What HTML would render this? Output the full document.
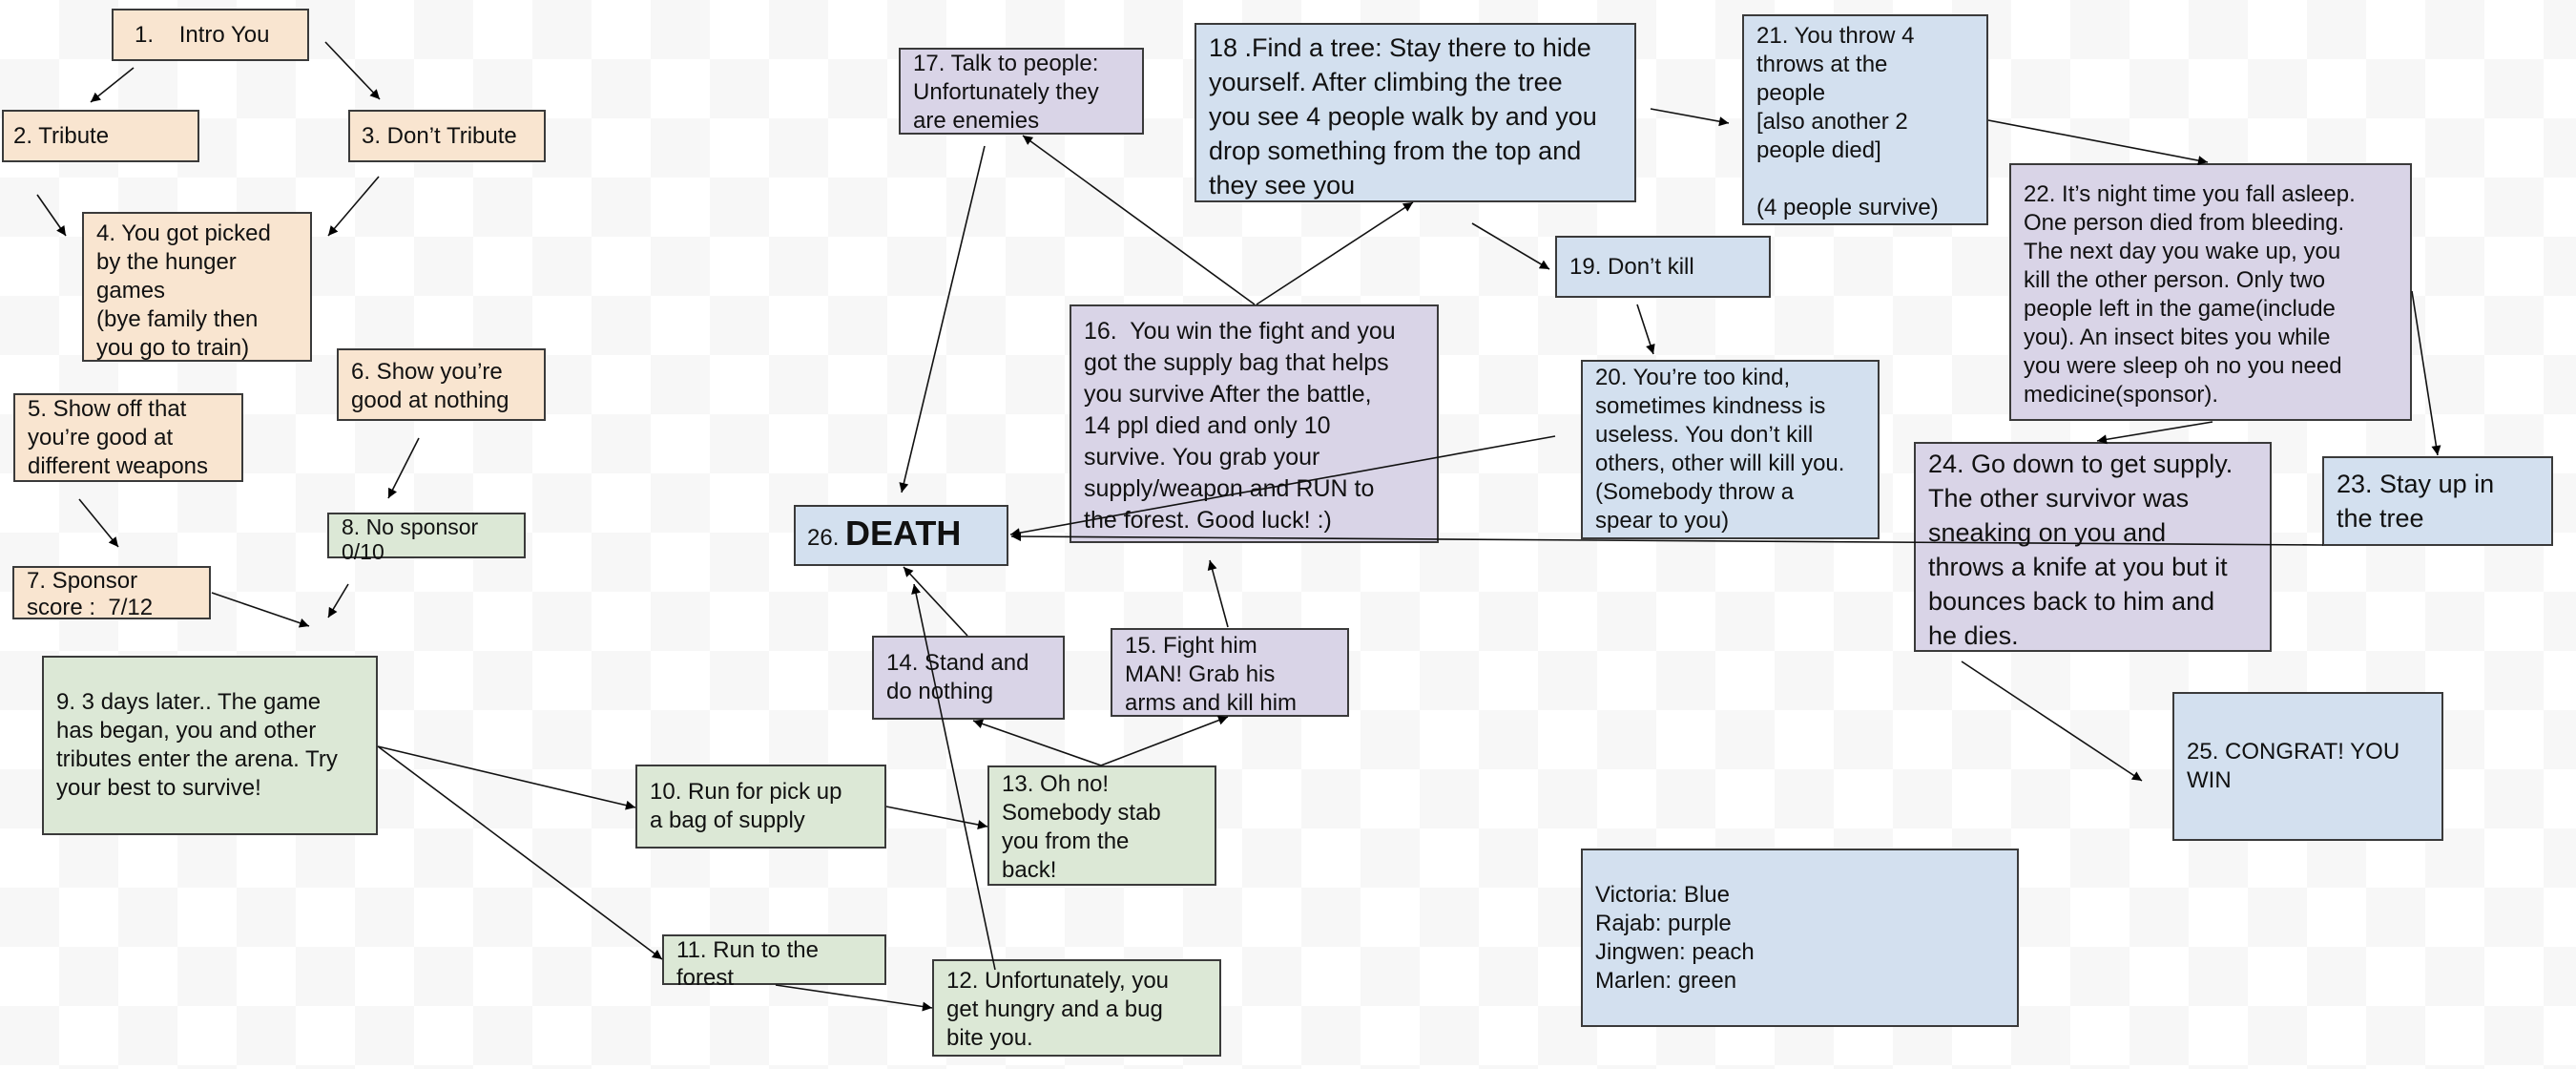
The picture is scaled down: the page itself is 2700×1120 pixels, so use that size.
<!DOCTYPE html>
<html><head><meta charset="utf-8"><style>
html,body{margin:0;padding:0}
body{width:2700px;height:1120px;position:relative;overflow:hidden;font-family:"Liberation Sans",Arial,sans-serif;color:#111;
background-color:#fff;background-image:linear-gradient(45deg,#f7f7f7 25%,transparent 25%,transparent 75%,#f7f7f7 75%),linear-gradient(45deg,#f7f7f7 25%,transparent 25%,transparent 75%,#f7f7f7 75%);background-size:124px 124px;background-position:0 0,62px 62px}
.b{position:absolute;box-sizing:border-box;border:2px solid #3a3a3a;padding:0 10px 0 13px;font-size:24px;line-height:30px;white-space:nowrap;overflow:visible}
.c{display:flex;flex-direction:column;justify-content:center}
.pe{background:#f9e5d0}.gr{background:#dce8d6}.bl{background:#d3e0ef}.pu{background:#d9d4e7}
svg{position:absolute;left:0;top:0;z-index:5}
</style></head><body>

<div class="b pe c" style="left:117px;top:9px;width:207px;height:55px;padding-left:22px">1.&nbsp;&nbsp;&nbsp;&nbsp;Intro You</div>
<div class="b pe c" style="left:2px;top:115px;width:207px;height:55px;padding-left:10px">2. Tribute</div>
<div class="b pe c" style="left:365px;top:115px;width:207px;height:55px;padding-left:12px">3. Don’t Tribute</div>
<div class="b pe" style="left:86px;top:222px;width:241px;height:157px;padding-top:6px">4. You got picked<br>by the hunger<br>games<br>(bye family then<br>you go to train)</div>
<div class="b pe" style="left:14px;top:412px;width:241px;height:93px;padding-top:0px">5. Show off that<br>you’re good at<br>different weapons</div>
<div class="b pe" style="left:353px;top:365px;width:219px;height:76px;padding-top:8px">6. Show you’re<br>good at nothing</div>
<div class="b pe" style="left:13px;top:593px;width:208px;height:56px;padding-top:0px;line-height:28px">7. Sponsor<br>score :&nbsp;&nbsp;7/12</div>
<div class="b gr" style="left:343px;top:537px;width:208px;height:48px;padding-top:0;line-height:26px;font-size:23px">8. No sponsor<br>0/10</div>
<div class="b gr c" style="left:44px;top:687px;width:352px;height:188px">9. 3 days later.. The game<br>has began, you and other<br>tributes enter the arena. Try<br>your best to survive!</div>
<div class="b gr c" style="left:666px;top:801px;width:263px;height:88px">10. Run for pick up<br>a bag of supply</div>
<div class="b gr" style="left:694px;top:979px;width:235px;height:53px;padding-top:0;line-height:29px">11. Run to the<br>forest</div>
<div class="b gr" style="left:977px;top:1005px;width:303px;height:102px;padding-top:6px">12. Unfortunately, you<br>get hungry and a bug<br>bite you.</div>
<div class="b gr" style="left:1035px;top:802px;width:240px;height:126px;padding-top:3px">13. Oh no!<br>Somebody stab<br>you from the<br>back!</div>
<div class="b pu c" style="left:914px;top:666px;width:202px;height:88px">14. Stand and<br>do nothing</div>
<div class="b pu" style="left:1164px;top:658px;width:250px;height:93px;padding-top:2px">15. Fight him<br>MAN! Grab his<br>arms and kill him</div>
<div class="b pu" style="left:1121px;top:319px;width:387px;height:250px;padding-top:10px;font-size:25px;line-height:33px">16.&nbsp; You win the fight and you<br>got the supply bag that helps<br>you survive After the battle,<br>14 ppl died and only 10<br>survive. You grab your<br>supply/weapon and RUN to<br>the forest. Good luck! :)</div>
<div class="b pu" style="left:942px;top:50px;width:257px;height:91px;padding-top:0">17. Talk to people:<br>Unfortunately they<br>are enemies</div>
<div class="b bl" style="left:1252px;top:24px;width:463px;height:188px;padding-top:6px;font-size:27px;line-height:36px">18 .Find a tree: Stay there to hide<br>yourself. After climbing the tree<br>you see 4 people walk by and you<br>drop something from the top and<br>they see you</div>
<div class="b bl c" style="left:1630px;top:247px;width:226px;height:65px">19. Don’t kill</div>
<div class="b bl" style="left:1657px;top:377px;width:313px;height:188px;padding-top:2px">20. You’re too kind,<br>sometimes kindness is<br>useless. You don’t kill<br>others, other will kill you.<br>(Somebody throw a<br>spear to you)</div>
<div class="b bl" style="left:1826px;top:15px;width:258px;height:221px;padding-top:6px">21. You throw 4<br>throws at the<br>people<br>[also another 2<br>people died]<br><br>(4 people survive)</div>
<div class="b pu" style="left:2106px;top:171px;width:422px;height:270px;padding-top:16px">22. It’s night time you fall asleep.<br>One person died from bleeding.<br>The next day you wake up, you<br>kill the other person. Only two<br>people left in the game(include<br>you). An insect bites you while<br>you were sleep oh no you need<br>medicine(sponsor).</div>
<div class="b bl c" style="left:2434px;top:478px;width:242px;height:94px;font-size:27px;line-height:36px">23. Stay up in<br>the tree</div>
<div class="b pu" style="left:2006px;top:463px;width:375px;height:220px;padding-top:3px;font-size:27px;line-height:36px">24. Go down to get supply.<br>The other survivor was<br>sneaking on you and<br>throws a knife at you but it<br>bounces back to him and<br>he dies.</div>
<div class="b bl c" style="left:2277px;top:725px;width:284px;height:156px">25. CONGRAT! YOU<br>WIN</div>
<div class="b bl c" style="left:832px;top:529px;width:225px;height:64px;padding-left:12px"><span><span style="font-size:24px">26. </span><b style="font-size:36px">DEATH</b></span></div>
<div class="b bl c" style="left:1657px;top:889px;width:459px;height:187px">Victoria: Blue<br>Rajab: purple<br>Jingwen: peach<br>Marlen: green</div>

<svg width="2700" height="1120" viewBox="0 0 2700 1120">
<defs><marker id="a" viewBox="0 0 10 10" refX="10" refY="5" markerWidth="14" markerHeight="10" markerUnits="userSpaceOnUse" orient="auto"><path d="M0,0L10,5L0,10z" fill="#000"/></marker></defs>
<g stroke="#111" stroke-width="1.6" fill="none" marker-end="url(#a)">
<line x1="140" y1="71" x2="95" y2="107"/>
<line x1="341" y1="44" x2="398" y2="104"/>
<line x1="39" y1="204" x2="69" y2="247"/>
<line x1="397" y1="185" x2="344" y2="247"/>
<line x1="83" y1="523" x2="124" y2="573"/>
<line x1="439" y1="459" x2="407" y2="522"/>
<line x1="222" y1="621" x2="324" y2="656"/>
<line x1="365" y1="612" x2="344" y2="647"/>
<line x1="396" y1="782" x2="666" y2="846"/>
<line x1="396" y1="782" x2="694" y2="1005"/>
<line x1="929" y1="845" x2="1035" y2="866"/>
<line x1="813" y1="1032" x2="977" y2="1056"/>
<line x1="1154" y1="802" x2="1020" y2="755"/>
<line x1="1154" y1="802" x2="1287" y2="751"/>
<line x1="1014" y1="666" x2="947" y2="594"/>
<line x1="1043" y1="1016" x2="958" y2="612"/>
<line x1="1287" y1="657" x2="1268" y2="587"/>
<line x1="1315" y1="319" x2="1072" y2="142"/>
<line x1="1317" y1="319" x2="1481" y2="212"/>
<line x1="1032" y1="153" x2="945" y2="516"/>
<line x1="1630" y1="457" x2="1059" y2="560"/>
<line x1="2435" y1="571" x2="1060" y2="562"/>
<line x1="1730" y1="114" x2="1812" y2="129"/>
<line x1="1543" y1="234" x2="1624" y2="282"/>
<line x1="1716" y1="319" x2="1733" y2="371"/>
<line x1="2084" y1="126" x2="2314" y2="170"/>
<line x1="2319" y1="442" x2="2198" y2="462"/>
<line x1="2528" y1="305" x2="2555" y2="477"/>
<line x1="2056" y1="693" x2="2245" y2="818"/>
</g></svg>
</body></html>
